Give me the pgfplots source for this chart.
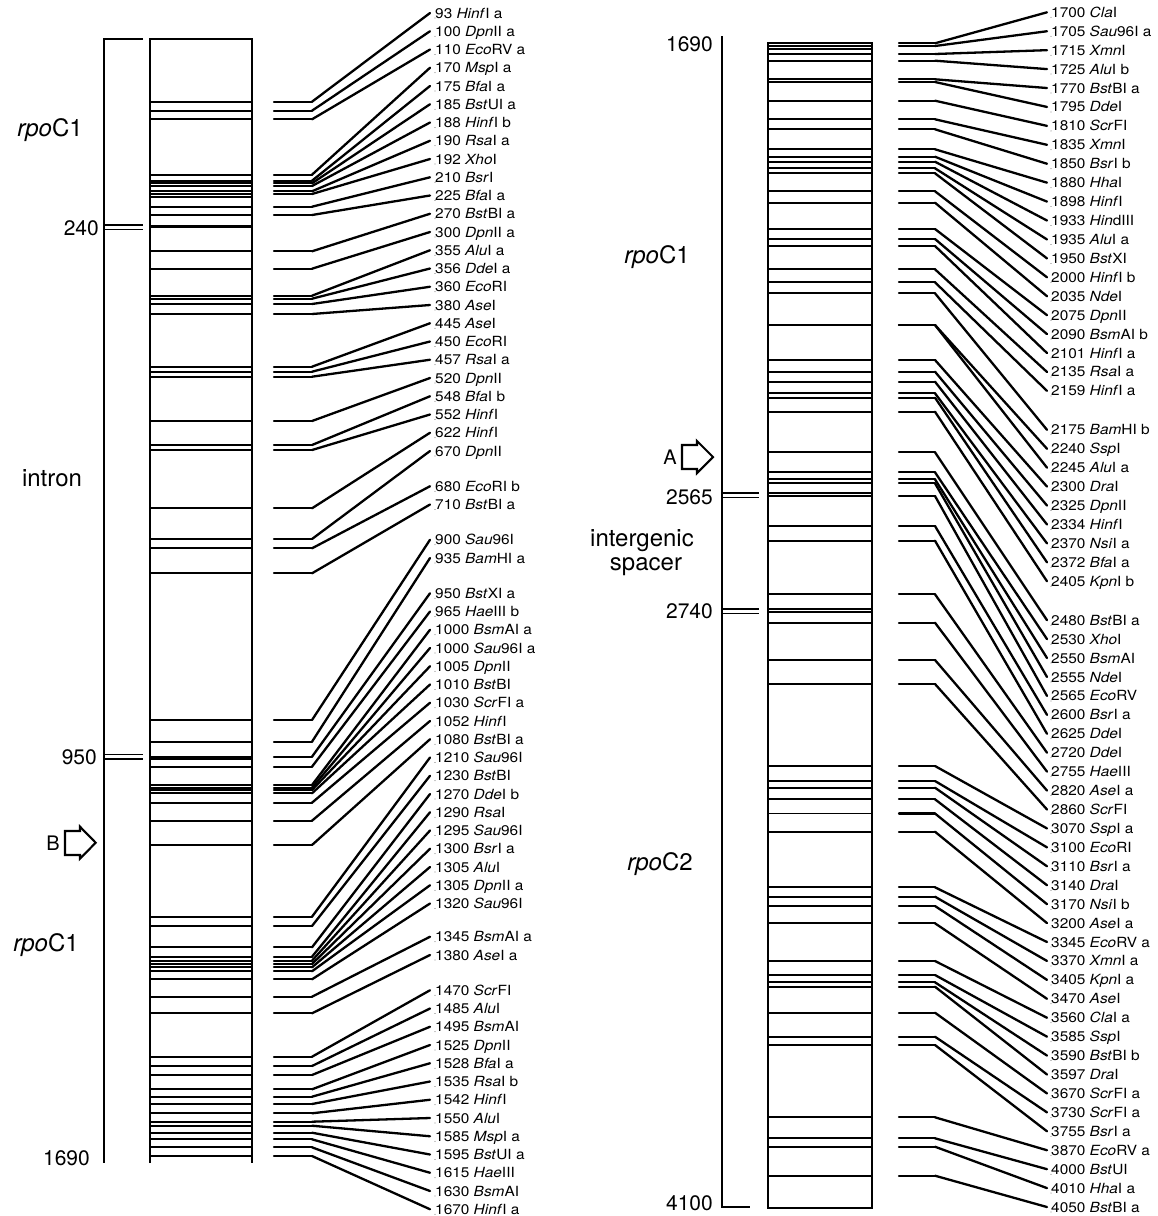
\documentclass[border=0pt]{standalone}
\usepackage{fontspec}
\setmainfont{TeX Gyre Heros}
\usepackage{graphicx}
\usepackage{pgfplots}
\pgfplotsset{compat=1.18}
\usepackage{pgfplotstable}

\pgfplotstableread[col sep=comma]{
boxy,laby,lab
101.7,13.00,93 \textit{Hinf}I a
110.7,31.25,100 \textit{Dpn}II a
119.3,49.50,110 \textit{Eco}RV a
174.7,67.75,170 \textit{Msp}I a
180.7,86.00,175 \textit{Bfa}I a
183.3,104.25,185 \textit{Bst}UI a
186.0,122.50,188 \textit{Hinf}I b
191.3,140.75,190 \textit{Rsa}I a
194.0,159.00,192 \textit{Xho}I
206.7,177.25,210 \textit{Bsr}I
215.0,195.50,225 \textit{Bfa}I a
251.3,213.75,270 \textit{Bst}BI a
268.7,232.00,300 \textit{Dpn}II a
295.7,250.25,355 \textit{Alu}I a
298.7,268.50,356 \textit{Dde}I a
304.0,286.75,360 \textit{Eco}RI
314.0,305.00,380 \textit{Ase}I
366.7,323.25,445 \textit{Ase}I
371.7,341.50,450 \textit{Eco}RI
376.7,359.75,457 \textit{Rsa}I a
421.0,378.00,520 \textit{Dpn}II
445.0,396.25,548 \textit{Bfa}I b
450.0,414.50,552 \textit{Hinf}I
508.3,432.75,622 \textit{Hinf}I
539.0,451.00,670 \textit{Dpn}II
548.3,486.25,680 \textit{Eco}RI b
573.3,504.50,710 \textit{Bst}BI a
720.0,539.75,900 \textit{Sau}96I
741.7,558.00,935 \textit{Bam}HI a
756.7,593.25,950 \textit{Bst}XI a
766.7,611.50,965 \textit{Hae}III b
785.0,629.75,1000 \textit{Bsm}AI a
787.7,648.00,1000 \textit{Sau}96I a
790.0,666.25,1005 \textit{Dpn}II
793.3,684.50,1010 \textit{Bst}BI
802.7,702.75,1030 \textit{Scr}FI a
820.7,721.00,1052 \textit{Hinf}I
845.0,739.25,1080 \textit{Bst}BI a
916.7,757.50,1210 \textit{Sau}96I
926.0,775.75,1230 \textit{Bst}BI
947.3,794.00,1270 \textit{Dde}I b
956.7,812.25,1290 \textit{Rsa}I
960.7,830.50,1295 \textit{Sau}96I
964.0,848.75,1300 \textit{Bsr}I a
967.3,867.00,1305 \textit{Alu}I
971.3,885.25,1305 \textit{Dpn}II a
979.3,903.50,1320 \textit{Sau}96I
996.7,936.75,1345 \textit{Bsm}AI a
1013.3,955.00,1380 \textit{Ase}I a
1056.7,990.25,1470 \textit{Scr}FI
1066.0,1008.50,1485 \textit{Alu}I
1075.0,1026.75,1495 \textit{Bsm}AI
1089.3,1045.00,1525 \textit{Dpn}II
1096.7,1063.25,1528 \textit{Bfa}I a
1104.0,1081.50,1535 \textit{Rsa}I b
1113.3,1099.75,1542 \textit{Hinf}I
1121.7,1118.00,1550 \textit{Alu}I
1125.7,1136.25,1585 \textit{Msp}I a
1132.7,1154.50,1595 \textit{Bst}UI a
1139.3,1172.75,1615 \textit{Hae}III
1147.3,1191.00,1630 \textit{Bsm}AI
1156.0,1209.25,1670 \textit{Hinf}I a
}\lefttab

\pgfplotstableread[col sep=comma]{
boxy,laby,lab
43.3,12.30,1700 \textit{Cla}I
46.0,31.23,1705 \textit{Sau}96I a
54.0,50.16,1715 \textit{Xmn}I
60.7,69.09,1725 \textit{Alu}I b
79.3,88.02,1770 \textit{Bst}BI a
82.0,106.95,1795 \textit{Dde}I
100.7,125.88,1810 \textit{Scr}FI
119.3,144.81,1835 \textit{Xmn}I
129.3,163.74,1850 \textit{Bsr}I b
149.3,182.67,1880 \textit{Hha}I
156.7,201.60,1898 \textit{Hinf}I
161.7,220.53,1933 \textit{Hin}dIII
168.3,239.46,1935 \textit{Alu}I a
173.3,258.39,1950 \textit{Bst}XI
191.3,277.32,2000 \textit{Hinf}I b
202.7,296.25,2035 \textit{Nde}I
229.0,315.18,2075 \textit{Dpn}II
239.0,334.11,2090 \textit{Bsm}AI b
246.0,353.04,2101 \textit{Hinf}I a
269.3,371.97,2135 \textit{Rsa}I a
282.3,390.90,2159 \textit{Hinf}I a
293.3,429.83,2175 \textit{Bam}HI b
325.0,448.76,2240 \textit{Ssp}I
325.0,467.69,2245 \textit{Alu}I a
360.0,486.62,2300 \textit{Dra}I
371.7,505.55,2325 \textit{Dpn}II
381.7,524.48,2334 \textit{Hinf}I
393.3,543.41,2370 \textit{Nsi}I a
397.7,562.34,2372 \textit{Bfa}I a
411.7,581.27,2405 \textit{Kpn}I b
452.3,620.20,2480 \textit{Bst}BI a
472.3,639.13,2530 \textit{Xho}I
479.3,658.06,2550 \textit{Bsm}AI
483.3,676.99,2555 \textit{Nde}I
496.0,695.92,2565 \textit{Eco}RV
526.0,714.85,2600 \textit{Bsr}I a
540.7,733.78,2625 \textit{Dde}I
594.3,752.71,2720 \textit{Dde}I
622.7,771.64,2755 \textit{Hae}III
660.0,790.57,2820 \textit{Ase}I a
684.0,809.50,2860 \textit{Scr}FI
766.0,828.43,3070 \textit{Ssp}I a
781.0,847.36,3100 \textit{Eco}RI
787.7,866.29,3110 \textit{Bsr}I a
799.3,885.22,3140 \textit{Dra}I
813.5,904.15,3170 \textit{Nsi}I b
831.7,923.08,3200 \textit{Ase}I a
887.3,942.01,3345 \textit{Eco}RV a
896.7,960.94,3370 \textit{Xmn}I a
906.0,979.87,3405 \textit{Kpn}I a
923.3,998.80,3470 \textit{Ase}I
961.0,1017.73,3560 \textit{Cla}I a
975.0,1036.66,3585 \textit{Ssp}I
982.3,1055.59,3590 \textit{Bst}BI b
986.7,1074.52,3597 \textit{Dra}I
1012.7,1093.45,3670 \textit{Scr}FI a
1036.7,1112.38,3730 \textit{Scr}FI a
1045.0,1131.31,3755 \textit{Bsr}I a
1117.3,1150.24,3870 \textit{Eco}RV a
1138.3,1169.17,4000 \textit{Bst}UI
1146.7,1188.10,4010 \textit{Hha}I a
1175.7,1207.03,4050 \textit{Bst}BI a
}\righttab

\newcommand{\labfont}{\fontsize{14}{16}\selectfont}
\newcommand{\numfont}{\fontsize{21}{24}\selectfont}
\newcommand{\namefont}{\fontsize{24}{26}\selectfont}
\newcommand{\arrfont}{\fontsize{20}{22}\selectfont}

\begin{document}
\begin{tikzpicture}
\begin{axis}[
  at={(0pt,0pt)}, anchor=south west,
  width=1158pt, height=1216pt, scale only axis,
  xmin=0, xmax=1158, ymin=0, ymax=1216, y dir=reverse,
  hide axis, clip=false,
  every node near coord/.append style={anchor=base west, inner sep=0pt, font=\labfont, text=black},
  boxline/.style={black, line width=1.9pt, no markers, quiver/every arrow/.append style={line width=1.9pt}},
  fanline/.style={black, line width=2.3pt, no markers, line cap=round, quiver/every arrow/.append style={line width=2.3pt, line cap=round}},
]
% ---------- left column ----------
\addplot[black, line width=2.3pt, no markers, line join=miter] coordinates {(150,1163) (150,39.3) (252,39.3) (252,1163)};
\addplot[boxline, quiver={u=102, v=0}] table[x expr=150, y=boxy] {\lefttab};
\addplot[black, line width=1.9pt, no markers] coordinates {(150,197.3) (252,197.3)};
\addplot[black, line width=2.9pt, no markers] coordinates {(150,226.7) (252,226.7)};
\addplot[black, line width=1.9pt, no markers] coordinates {(150,759) (252,759)};
\addplot[fanline, quiver={u=38, v=0}] table[x expr=274, y=boxy] {\lefttab};
\addplot[fanline, quiver={u=118, v=\thisrow{laby}-\thisrow{boxy}}] table[x expr=312, y=boxy] {\lefttab};
\addplot[only marks, mark=*, mark size=0.1pt, mark options={draw=none, fill=none},
  nodes near coords={\scalebox{1.1}[1]{\pgfplotspointmeta}}, point meta=explicit symbolic]
  table[x expr=435, y expr=\thisrow{laby}+5, meta=lab] {\lefttab};
% scale
\addplot[black, line width=1.8pt, no markers, line join=miter] coordinates {(143,39.3) (104,39.3) (104,1163)};
\addplot[black, line width=1.6pt, no markers] coordinates {(104,225) (143,225)};
\addplot[black, line width=1.6pt, no markers] coordinates {(104,229.5) (143,229.5)};
\addplot[black, line width=1.6pt, no markers] coordinates {(104,754.3) (143,754.3)};
\addplot[black, line width=1.6pt, no markers] coordinates {(104,759) (143,759)};
% arrow B
\addplot[black, line width=2.1pt, no markers, line join=miter] coordinates {(65,831) (80,831) (80,826.7) (95.7,842.7) (80,858.7) (80,855) (65,855) (65,831) (80,831)};

\node[anchor=base east, inner sep=0pt, font=\numfont] at (axis cs:99,235.5) {240};
\node[anchor=base east, inner sep=0pt, font=\numfont] at (axis cs:97,764.5) {950};
\node[anchor=base east, inner sep=0pt, font=\numfont] at (axis cs:90,1165) {1690};
\node[anchor=base, inner sep=0pt, font=\namefont] at (axis cs:50,136.6) {\textit{rpo}C1};
\node[anchor=base, inner sep=0pt, font=\namefont] at (axis cs:52,486.6) {intron};
\node[anchor=base, inner sep=0pt, font=\namefont] at (axis cs:46,951.6) {\textit{rpo}C1};
\node[anchor=base, inner sep=0pt, font=\arrfont] at (axis cs:53,850) {B};

% ---------- right column ----------
\addplot[black, line width=2.3pt, no markers, line join=miter] coordinates {(768,43.3) (872,43.3) (872,1208) (768,1208) (768,43.3) (872,43.3)};
\addplot[boxline, quiver={u=104, v=0}] table[x expr=768, y=boxy] {\righttab};
\addplot[black, line width=1.9pt, no markers] coordinates {(768,49.3) (872,49.3)};
\addplot[black, line width=1.9pt, no markers] coordinates {(768,493.3) (872,493.3)};
\addplot[black, line width=1.9pt, no markers] coordinates {(768,609.3) (872,609.3)};
\addplot[black, line width=1.9pt, no markers] coordinates {(768,612.3) (872,612.3)};
\addplot[fanline, quiver={u=36, v=0}] table[x expr=899, y=boxy] {\righttab};
\addplot[fanline, quiver={u=112, v=\thisrow{laby}-\thisrow{boxy}}] table[x expr=935, y=boxy] {\righttab};
\addplot[only marks, mark=*, mark size=0.1pt, mark options={draw=none, fill=none},
  nodes near coords={\scalebox{1.1}[1]{\pgfplotspointmeta}}, point meta=explicit symbolic]
  table[x expr=1051, y expr=\thisrow{laby}+5, meta=lab] {\righttab};
% scale
\addplot[black, line width=1.8pt, no markers, line join=miter] coordinates {(722,36) (722,1207) (750,1207)};
\addplot[black, line width=1.6pt, no markers] coordinates {(722,493) (759,493)};
\addplot[black, line width=1.6pt, no markers] coordinates {(722,497.5) (759,497.5)};
\addplot[black, line width=1.6pt, no markers] coordinates {(722,609) (759,609)};
\addplot[black, line width=1.6pt, no markers] coordinates {(722,613.5) (759,613.5)};
% arrow A
\addplot[black, line width=2.1pt, no markers, line join=miter] coordinates {(682,445) (697,445) (697,441) (713,457) (697,473) (697,469) (682,469) (682,445) (697,445)};

\node[anchor=base east, inner sep=0pt, font=\numfont] at (axis cs:713,51.5) {1690};
\node[anchor=base east, inner sep=0pt, font=\numfont] at (axis cs:713,504.5) {2565};
\node[anchor=base east, inner sep=0pt, font=\numfont] at (axis cs:713,618.5) {2740};
\node[anchor=base east, inner sep=0pt, font=\numfont] at (axis cs:713,1210.5) {4100};
\node[anchor=base, inner sep=0pt, font=\namefont] at (axis cs:657,263.6) {\textit{rpo}C1};
\node[anchor=base, inner sep=0pt, font=\namefont] at (axis cs:642,546.6) {intergenic};
\node[anchor=base, inner sep=0pt, font=\namefont] at (axis cs:646,570.6) {spacer};
\node[anchor=base, inner sep=0pt, font=\namefont] at (axis cs:660,870.6) {\textit{rpo}C2};
\node[anchor=base, inner sep=0pt, font=\arrfont] at (axis cs:670,464) {A};
\end{axis}
\pgfresetboundingbox
\useasboundingbox (current axis.south west) rectangle (current axis.north east);
\end{tikzpicture}
\end{document}
